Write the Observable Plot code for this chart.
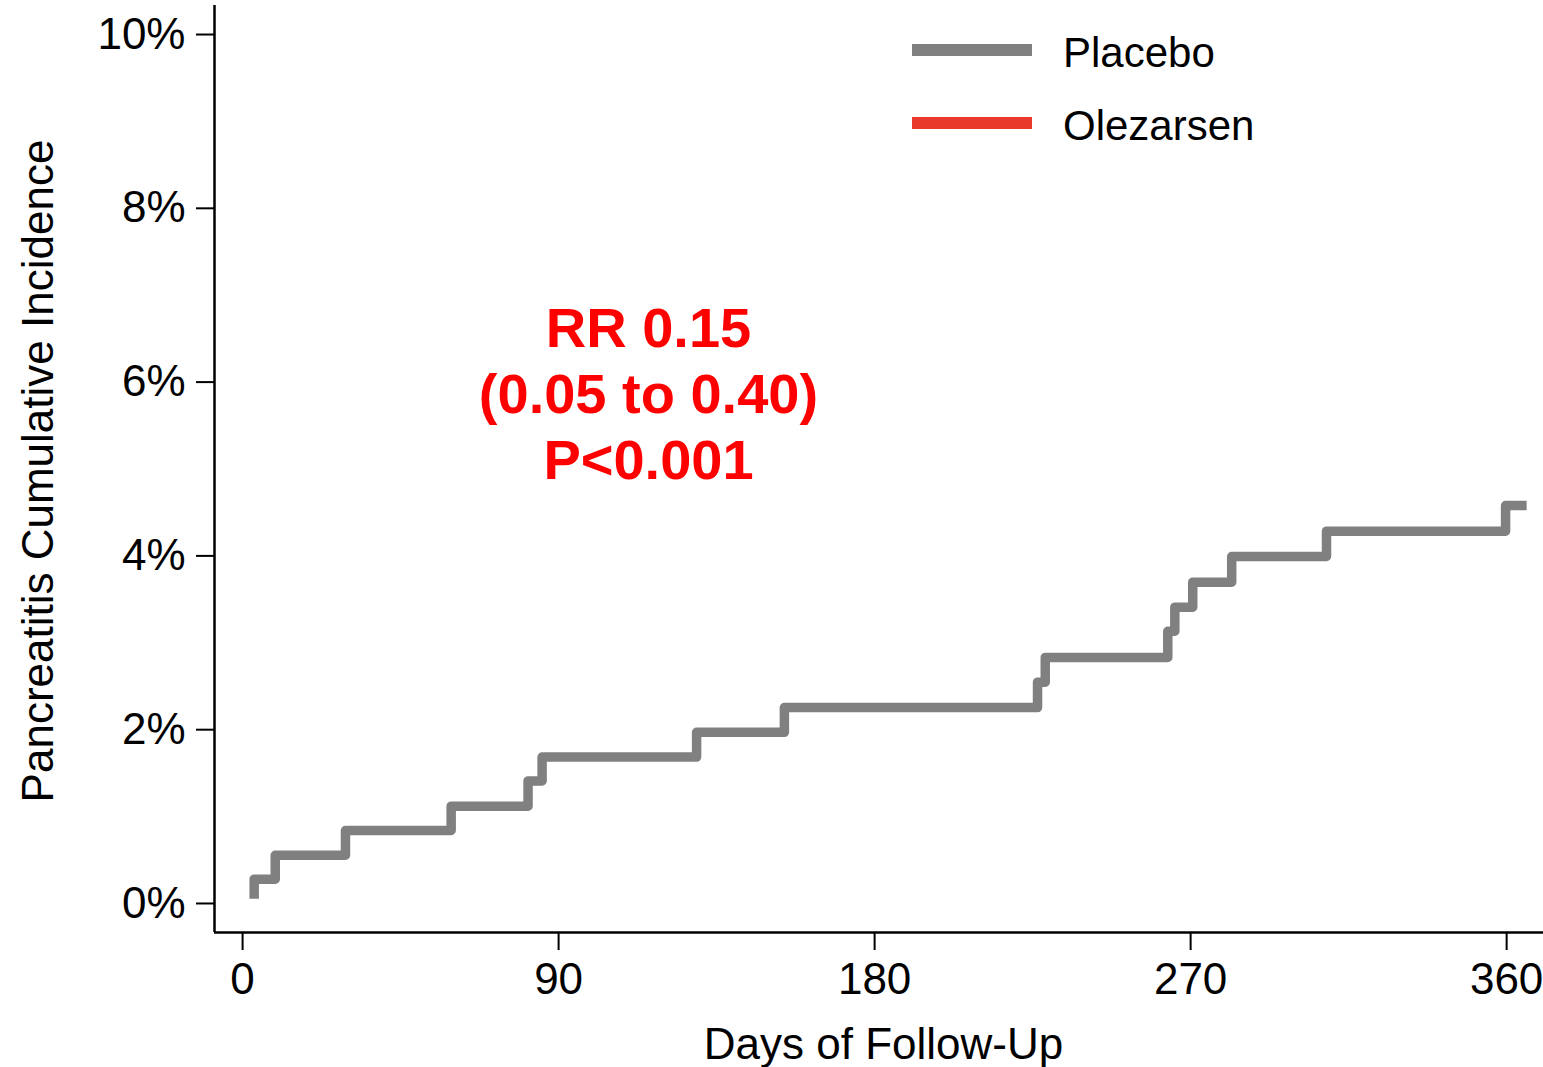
<!DOCTYPE html>
<html>
<head>
<meta charset="utf-8">
<script src="https://cdn.jsdelivr.net/npm/d3@7"></script>
<script src="https://cdn.jsdelivr.net/npm/@observablehq/plot@0.6"></script>
<style>
  html, body { margin: 0; padding: 0; background: #fff; }
  #wrap { position: relative; width: 1543px; height: 1067px; font-family: "Liberation Sans", Arial, Helvetica, sans-serif; }
  #legend { position: absolute; left: 0; top: 0; }
  .lg-line { position: absolute; left: 912px; width: 120px; height: 12px; }
  .lg-text { position: absolute; left: 1063px; font-size: 42px; line-height: 1; color: #000; white-space: nowrap; }
</style>
</head>
<body>
<div id="wrap"><div id="chart"></div><div id="legend"></div></div>
<script>
// ---- data ----
const placeboDays = [3.3, 3.3, 9.3, 29.3, 59.4, 81.3, 85.3, 129.3, 154.3, 226.4, 228.6, 263.5, 265.5, 270.6, 281.7, 308.7, 359.7, 365.7];
const placeboPct  = [0, 0.28, 0.555, 0.84, 1.12, 1.41, 1.685, 1.97, 2.255, 2.547, 2.831, 3.133, 3.41, 3.697, 3.993, 4.284, 4.58, 4.58];
// Olezarsen curve is essentially invisible in the reference (rendered white)
const olezarsenDays = [0, 150, 300, 365.7];
const olezarsenPct  = [0, 0.31, 0.6, 0.6];

const seriesNames  = ["Placebo", "Olezarsen"];
const seriesColors = ["#808080", "#e8392b"];

const xTicks = [0, 90, 180, 270, 360];
const yTicks = [0, 2, 4, 6, 8, 10];
const xDomain = [-8, 370.5];
const yDomain = [-0.334, 10.334];

const xTitle = "Days of Follow-Up";
const yTitle = "Pancreatitis Cumulative Incidence";
const annotation = [{day: 115.6, pct: 4.88, label: "RR 0.15\n(0.05 to 0.40)\nP<0.001"}];

// ---- build tables ----
const placebo = placeboDays.map((d, i) => ({day: d, pct: placeboPct[i]}));
const olezarsen = olezarsenDays.map((d, i) => ({day: d, pct: olezarsenPct[i]}));

const FONT = "'Liberation Sans', Arial, Helvetica, sans-serif";

const chart = Plot.plot({
  width: 1543,
  height: 1067,
  marginLeft: 214,
  marginRight: 0,
  marginTop: 5,
  marginBottom: 135,
  x: {domain: xDomain},
  y: {domain: yDomain},
  style: {fontFamily: FONT, fontSize: "44px", color: "#000", background: "#fff", overflow: "visible"},
  marks: [
    Plot.ruleX([xDomain[0]], {stroke: "#000", strokeWidth: 2.5}),
    Plot.ruleY([yDomain[0]], {stroke: "#000", strokeWidth: 2.5}),
    Plot.axisY({ticks: yTicks, tickFormat: d => d + "%", tickSize: 18, tickPadding: 11, fontSize: 44, strokeWidth: 2, label: null}),
    Plot.axisX({ticks: xTicks, tickFormat: d => String(d), tickSize: 18, tickPadding: 12, fontSize: 44, strokeWidth: 2, label: null}),
    Plot.line(placebo, {x: "day", y: "pct", curve: "step-after", stroke: seriesColors[0], strokeWidth: 9.5, strokeLinejoin: "round", strokeLinecap: "butt"}),
    Plot.line(olezarsen, {x: "day", y: "pct", curve: "step-after", stroke: "#ffffff", strokeWidth: 9.5, strokeLinecap: "butt"}),
    Plot.text([yTitle], {text: d => d, frameAnchor: "left", textAnchor: "middle", rotate: -90, dx: -162, dy: 2, lineAnchor: "bottom", fontSize: 44, fill: "#000"}),
    Plot.text([xTitle], {text: d => d, frameAnchor: "bottom", textAnchor: "middle", dx: 4.5, dy: 126, lineAnchor: "bottom", fontSize: 44, fill: "#000"}),
    Plot.text(annotation, {x: "day", y: "pct", text: "label", lineAnchor: "bottom", lineHeight: 1.18, fontSize: 56, fontWeight: "bold", fill: "#ff0000"})
  ]
});
document.getElementById("chart").appendChild(chart);

// ---- legend ----
const legend = document.getElementById("legend");
const lineTops = [44, 117];
const textTops = [32, 105];
seriesNames.forEach((name, i) => {
  const ln = document.createElement("div");
  ln.className = "lg-line";
  ln.style.top = lineTops[i] + "px";
  ln.style.background = seriesColors[i];
  legend.appendChild(ln);
  const tx = document.createElement("div");
  tx.className = "lg-text";
  tx.style.top = textTops[i] + "px";
  tx.textContent = name;
  legend.appendChild(tx);
});
</script>
</body>
</html>
